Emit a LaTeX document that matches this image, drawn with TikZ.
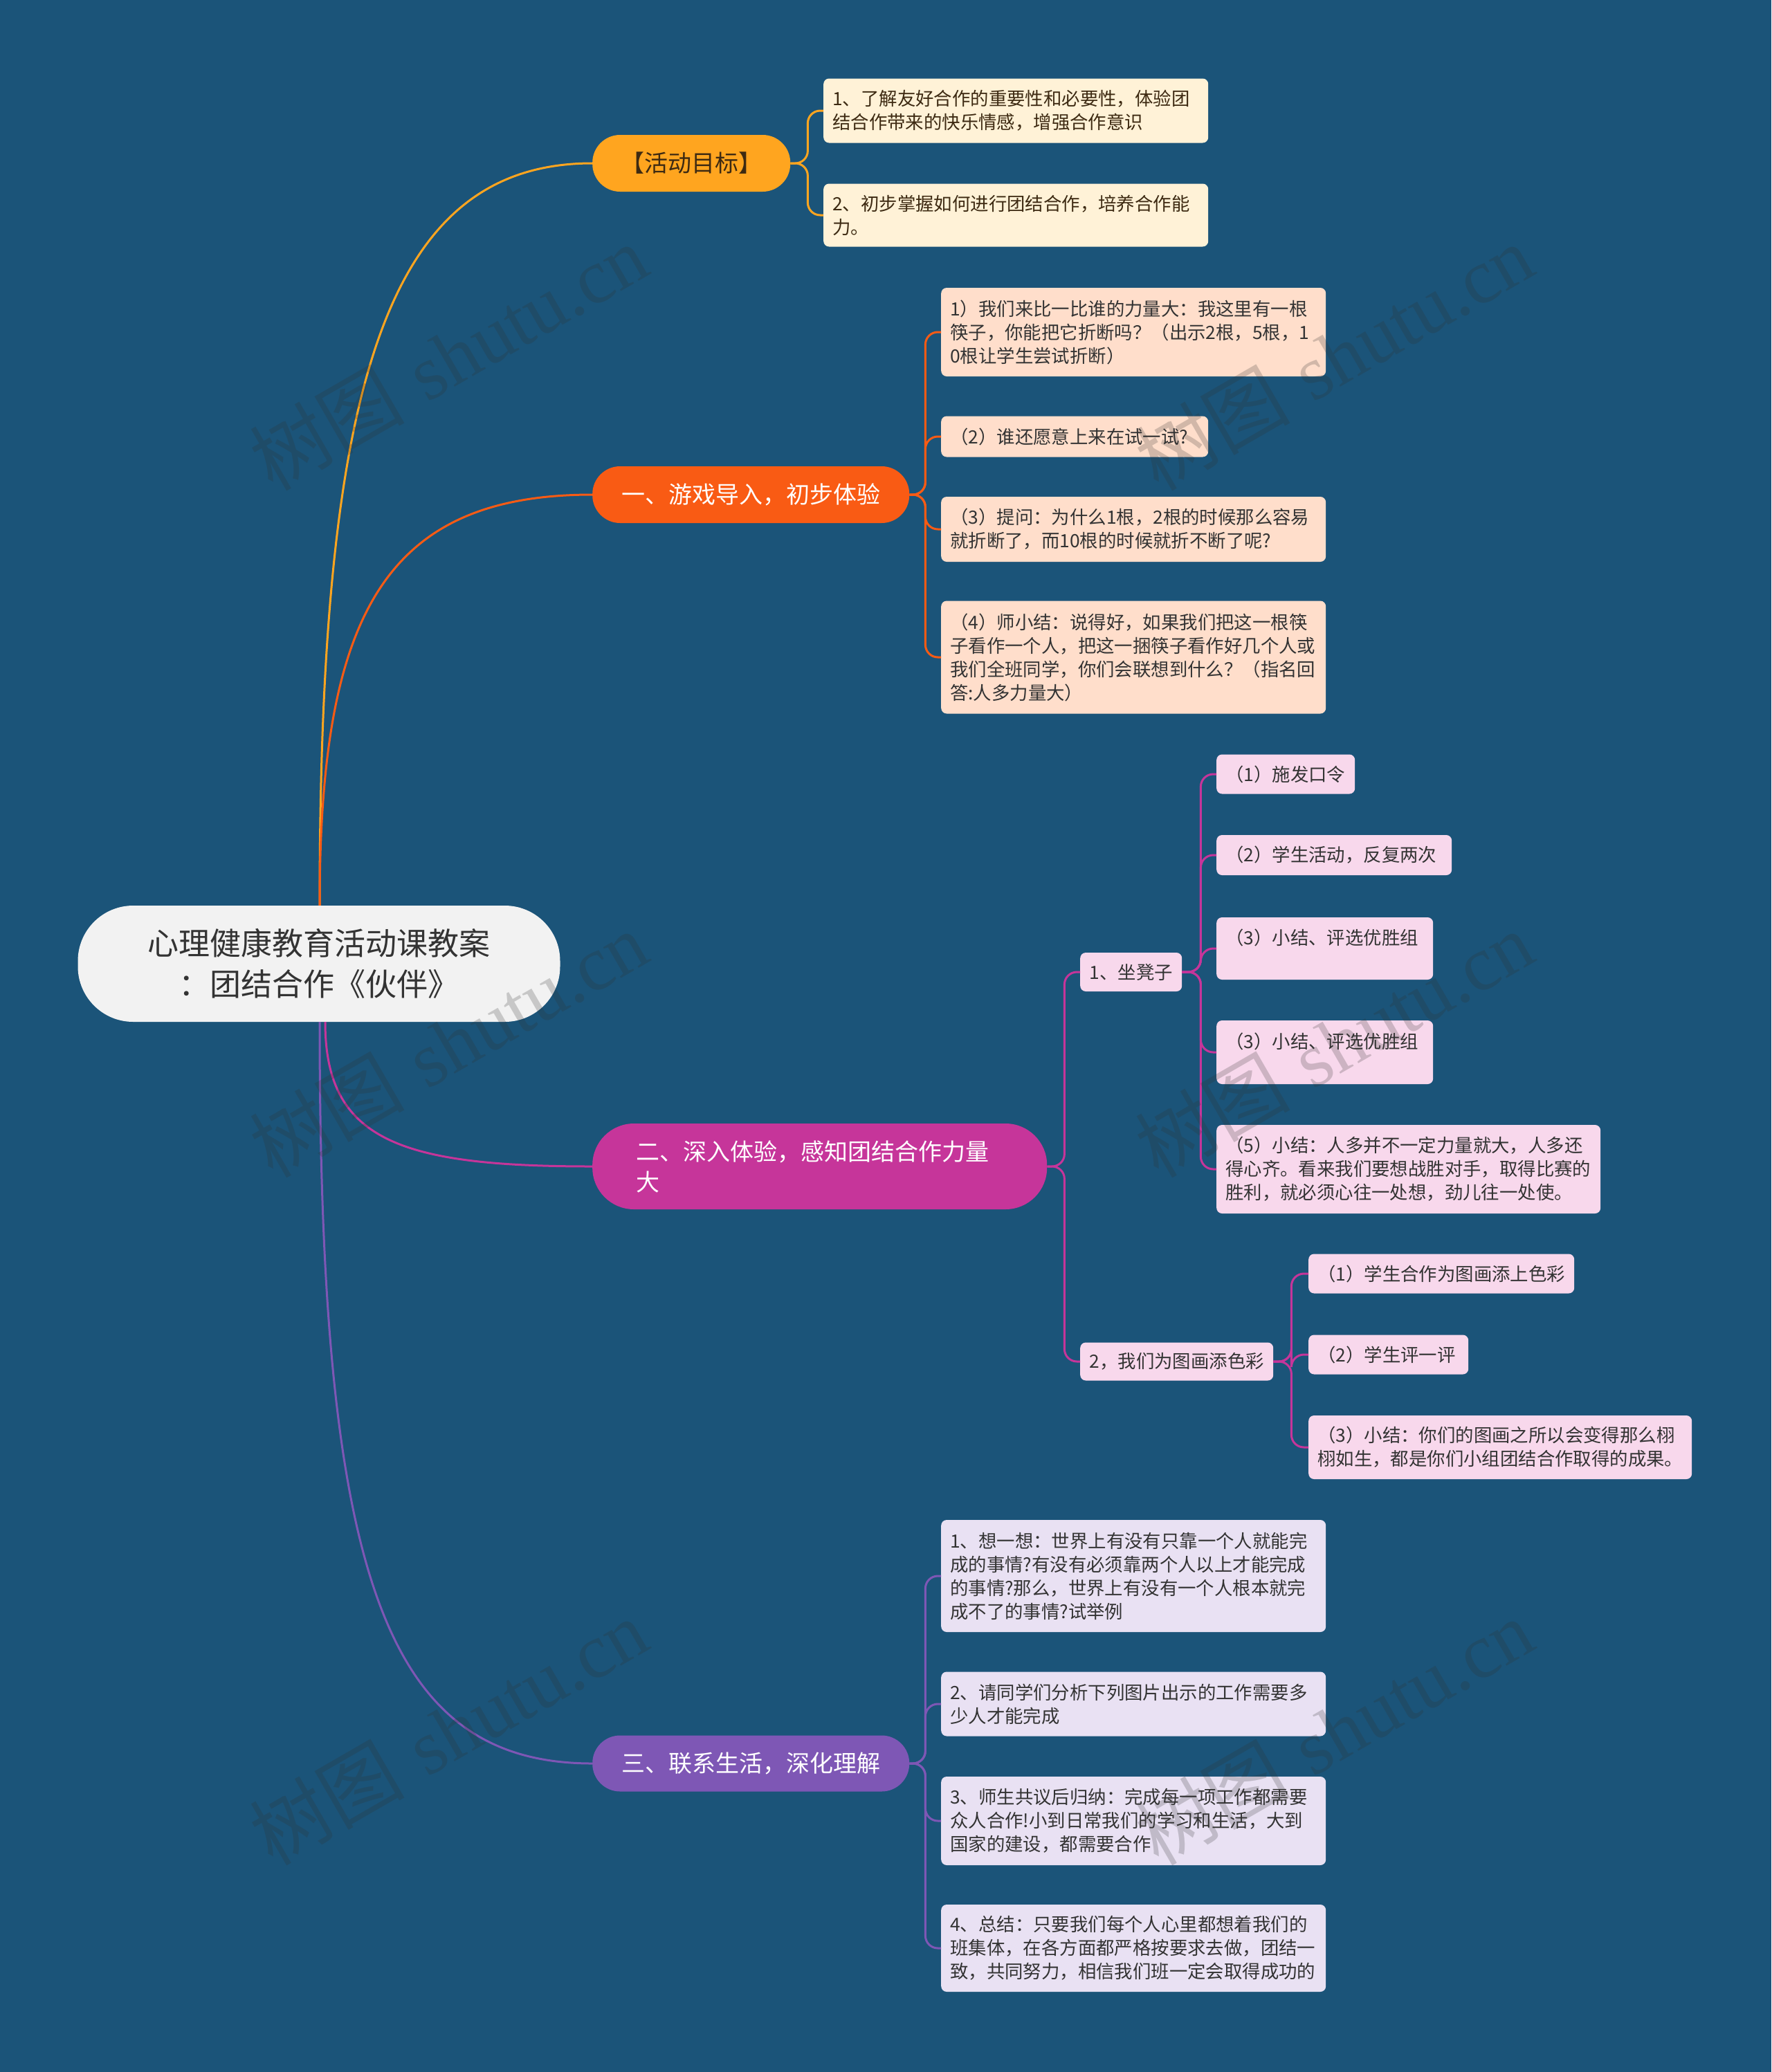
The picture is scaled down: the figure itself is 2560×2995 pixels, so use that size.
\documentclass[tikz,border=0pt]{standalone}
\usepackage{fontspec}
\newfontfamily\cjk{Noto Sans CJK SC}
\newfontfamily\wmlat{Liberation Serif}
\definecolor{bg}{HTML}{1B5479}
\definecolor{rootfill}{HTML}{F2F2F2}
\definecolor{dark}{HTML}{333333}
\definecolor{cOne}{HTML}{FFA51F}
\definecolor{cTwo}{HTML}{F95B14}
\definecolor{cThree}{HTML}{C6359A}
\definecolor{cFour}{HTML}{7E57B5}
\definecolor{fOne}{HTML}{FFF2D7}
\definecolor{fTwo}{HTML}{FFDECB}
\definecolor{fThree}{HTML}{F8D8EC}
\definecolor{fFour}{HTML}{E9E1F3}
\definecolor{tOne}{HTML}{3D2A12}
\definecolor{wmcol}{HTML}{303030}
\begin{document}
\begin{tikzpicture}[x=1pt,y=-1pt,
  rootbox/.style={fill=rootfill,text=dark,minimum width=697pt,minimum height=168pt,rounded corners=80pt,align=center,inner sep=0pt,font=\cjk\fontsize{45pt}{59pt}\selectfont},
  pill/.style={anchor=west,minimum height=82pt,rounded corners=40pt,align=center,inner sep=0pt,font=\cjk\fontsize{34pt}{44pt}\selectfont},
  cbox/.style={anchor=west,rounded corners=8pt,inner xsep=13pt,inner ysep=0pt,align=left,text=dark,font=\cjk\fontsize{26.4pt}{34pt}\selectfont},
  lnOne/.style={draw=cOne,line width=3pt,rounded corners=18pt},
  lnTwo/.style={draw=cTwo,line width=3pt,rounded corners=18pt},
  lnThree/.style={draw=cThree,line width=3pt,rounded corners=18pt},
  lnFour/.style={draw=cFour,line width=3pt,rounded corners=18pt},
  wm/.style={text=wmcol,opacity=0.22,rotate=30,font=\fontsize{112pt}{118pt}\selectfont}
]
\fill[bg] (0,0) rectangle (2560,2995);
\useasboundingbox (0,0) rectangle (2560,2995);

% root
\node[rootbox] (root) at (461,1393) {心理健康教育活动课教案\\：团结合作《伙伴》};

% branches
\node[pill,fill=cOne,text=tOne,minimum width=286pt] (b1) at (856,236) {【活动目标】};
\node[pill,fill=cTwo,text=white,minimum width=458pt] (b2) at (856,715) {一、游戏导入，初步体验};
\node[pill,fill=cThree,text=white,minimum width=657pt,minimum height=124pt,rounded corners=60pt,align=left,text width=531pt,inner xsep=63pt] (b3) at (856,1686) {二、深入体验，感知团结合作力量\\大};
\node[pill,fill=cFour,text=white,minimum width=458pt,minimum height=81pt] (b4) at (856,2549) {三、联系生活，深化理解};

% root connectors
\draw[lnOne,rounded corners=0pt] ([xshift=1pt]root.north) .. controls +(0,-750) and +(-300,0) .. (b1.west);
\draw[lnTwo,rounded corners=0pt] ([xshift=1pt]root.north) .. controls +(0,-420) and +(-300,0) .. (b2.west);
\draw[lnThree,rounded corners=0pt] ([xshift=9pt]root.south) .. controls +(0,170) and +(-280,0) .. (b3.west);
\draw[lnFour,rounded corners=0pt] ([xshift=1pt]root.south) .. controls +(0,800) and +(-300,0) .. (b4.west);

% branch 1 children
\node[cbox,fill=fOne,text=tOne,minimum width=556pt,text width=530pt,minimum height=93pt] (a1) at (1190,160) {1、了解友好合作的重要性和必要性，体验团\\结合作带来的快乐情感，增强合作意识};
\node[cbox,fill=fOne,text=tOne,minimum width=556pt,text width=530pt,minimum height=91pt] (a2) at (1190,311) {2、初步掌握如何进行团结合作，培养合作能\\力。};
\coordinate (j1) at ([xshift=25pt]b1.east);
\draw[lnOne] (b1.east) -- (j1) |- (a1.west);
\draw[lnOne] (b1.east) -- (j1) |- (a2.west);

% branch 2 children
\node[cbox,fill=fTwo,minimum width=556pt,text width=530pt,minimum height=128pt] (c1) at (1360,480) {1）我们来比一比谁的力量大：我这里有一根\\筷子，你能把它折断吗？（出示2根，5根，1\\0根让学生尝试折断）};
\node[cbox,fill=fTwo,minimum width=386pt,text width=360pt,minimum height=59pt] (c2) at (1360,631) {（2）谁还愿意上来在试一试?};
\node[cbox,fill=fTwo,minimum width=556pt,text width=530pt,minimum height=94pt] (c3) at (1360,765) {（3）提问：为什么1根，2根的时候那么容易\\就折断了，而10根的时候就折不断了呢?};
\node[cbox,fill=fTwo,minimum width=556pt,text width=530pt,minimum height=163pt] (c4) at (1360,950) {（4）师小结：说得好，如果我们把这一根筷\\子看作一个人，把这一捆筷子看作好几个人或\\我们全班同学，你们会联想到什么？（指名回\\答:人多力量大）};
\coordinate (j2) at ([xshift=23pt]b2.east);
\foreach \c in {c1,c2,c3,c4} \draw[lnTwo] (b2.east) -- (j2) |- (\c.west);

% branch 3 subs
\node[cbox,fill=fThree,minimum width=147pt,minimum height=56pt] (s1) at (1561,1405) {1、坐凳子};
\node[cbox,fill=fThree,minimum width=279pt,minimum height=55pt] (s2) at (1561,1968) {2，我们为图画添色彩};
\coordinate (j3) at ([xshift=25pt]b3.east);
\draw[lnThree] (b3.east) -- (j3) |- (s1.west);
\draw[lnThree] (b3.east) -- (j3) |- (s2.west);

\node[cbox,fill=fThree,minimum width=200pt,text width=174pt,minimum height=57pt] (e1) at (1758,1119) {（1）施发口令};
\node[cbox,fill=fThree,minimum width=340pt,text width=314pt,minimum height=58pt] (e2) at (1758,1236) {（2）学生活动，反复两次};
\node[cbox,fill=fThree,minimum width=313pt,text width=287pt,minimum height=90pt] (e3) at (1758,1371) {（3）小结、评选优胜组\\\mbox{}};
\node[cbox,fill=fThree,minimum width=313pt,text width=287pt,minimum height=92pt] (e4) at (1758,1521) {（3）小结、评选优胜组\\\mbox{}};
\node[cbox,fill=fThree,minimum width=555pt,text width=529pt,minimum height=128pt] (e5) at (1758,1690) {（5）小结：人多并不一定力量就大，人多还\\得心齐。看来我们要想战胜对手，取得比赛的\\胜利，就必须心往一处想，劲儿往一处使。};
\coordinate (j4) at ([xshift=27pt]s1.east);
\foreach \c in {e1,e2,e3,e4,e5} \draw[lnThree] (s1.east) -- (j4) |- (\c.west);

\node[cbox,fill=fThree,minimum width=384pt,text width=358pt,minimum height=57pt] (f1) at (1891,1841) {（1）学生合作为图画添上色彩};
\node[cbox,fill=fThree,minimum width=231pt,text width=205pt,minimum height=57pt] (f2) at (1891,1958) {（2）学生评一评};
\node[cbox,fill=fThree,minimum width=554pt,text width=528pt,minimum height=92pt] (f3) at (1891,2092) {（3）小结：你们的图画之所以会变得那么栩\\栩如生，都是你们小组团结合作取得的成果。};
\coordinate (j5) at ([xshift=26pt]s2.east);
\foreach \c in {f1,f2,f3} \draw[lnThree] (s2.east) -- (j5) |- (\c.west);

% branch 4 children
\node[cbox,fill=fFour,minimum width=556pt,text width=530pt,minimum height=162pt] (d1) at (1360,2278) {1、想一想：世界上有没有只靠一个人就能完\\成的事情?有没有必须靠两个人以上才能完成\\的事情?那么，世界上有没有一个人根本就完\\成不了的事情?试举例};
\node[cbox,fill=fFour,minimum width=556pt,text width=530pt,minimum height=93pt] (d2) at (1360,2463) {2、请同学们分析下列图片出示的工作需要多\\少人才能完成};
\node[cbox,fill=fFour,minimum width=556pt,text width=530pt,minimum height=128pt] (d3) at (1360,2632) {3、师生共议后归纳：完成每一项工作都需要\\众人合作!小到日常我们的学习和生活，大到\\国家的建设，都需要合作};
\node[cbox,fill=fFour,minimum width=556pt,text width=530pt,minimum height=126pt] (d4) at (1360,2816) {4、总结：只要我们每个人心里都想着我们的\\班集体，在各方面都严格按要求去做，团结一\\致，共同努力，相信我们班一定会取得成功的};
\coordinate (j6) at ([xshift=23pt]b4.east);
\foreach \c in {d1,d2,d3,d4} \draw[lnFour] (b4.east) -- (j6) |- (\c.west);

% watermarks
\node[wm] (w1) at (648,516) {{\cjk 树图} {\wmlat shutu.cn}};
\node[wm] (w2) at (1928,516) {{\cjk 树图} {\wmlat shutu.cn}};
\node[wm] (w3) at (648,1509) {{\cjk 树图} {\wmlat shutu.cn}};
\node[wm] (w4) at (1928,1509) {{\cjk 树图} {\wmlat shutu.cn}};
\node[wm] (w5) at (648,2503) {{\cjk 树图} {\wmlat shutu.cn}};
\node[wm] (w6) at (1928,2503) {{\cjk 树图} {\wmlat shutu.cn}};
\end{tikzpicture}
\end{document}
